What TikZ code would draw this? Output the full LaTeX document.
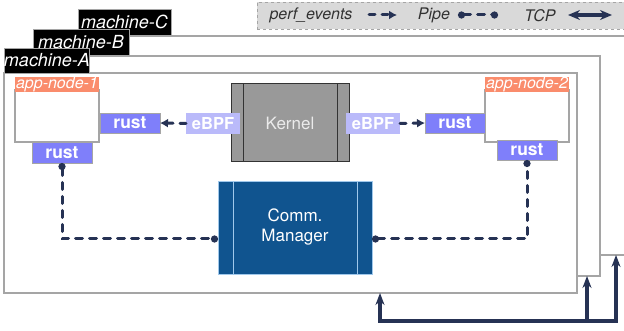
\documentclass[tikz,border=0pt]{standalone}
\usepackage{fontspec}
\setmainfont{TeX Gyre Heros}
\usetikzlibrary{arrows.meta,calc}
\definecolor{navy}{RGB}{38,50,84}
\definecolor{rustc}{RGB}{127,127,250}
\definecolor{ebpfc}{RGB}{186,186,250}
\definecolor{salmon}{RGB}{250,140,108}
\definecolor{commc}{RGB}{16,84,143}
\definecolor{commb}{RGB}{160,200,235}
\definecolor{kerc}{RGB}{153,153,153}
\definecolor{legc}{RGB}{217,217,217}
\definecolor{framec}{RGB}{165,165,165}
\definecolor{legtext}{RGB}{50,50,50}
\newcommand\myfs[1]{\fontsize{#1}{#1}\selectfont}
\begin{document}
\begin{tikzpicture}[x=1pt,y=-1pt,
  box/.style={rectangle,inner sep=0pt,outer sep=0pt,anchor=north west},
  mframe/.style={box,draw=framec,line width=1.3pt,fill=white},
  mlabel/.style={box,fill=black,draw=framec,line width=0.6pt,text=white,font=\myfs{18}\itshape},
  appbox/.style={box,draw=framec,line width=1.6pt,fill=white},
  applabel/.style={box,fill=salmon,text=white,font=\myfs{16}\itshape},
  rustbox/.style={box,fill=rustc,draw=framec,line width=0.8pt,text=white,font=\myfs{17.5}\bfseries},
  ebpfbox/.style={box,fill=ebpfc,text=white,font=\myfs{16.5}\bfseries},
  legtxt/.style={inner sep=0pt,text=legtext,font=\myfs{16}\itshape},
  perf/.style={navy,line width=3pt,line cap=round,dash pattern=on 6pt off 7pt,-{Latex[length=8pt,width=9pt]}},
  pipe/.style={navy,line width=3pt,line cap=round,dash pattern=on 7pt off 7pt,{Circle[length=7pt]}-{Circle[length=7pt]}},
  tcp/.style={navy,line width=3.5pt}
]
\clip (0,0) rectangle (624,331);
\fill[white] (0,0) rectangle (624,331);

% legend
\node[box,fill=legc,draw=framec,dashed,line width=0.8pt,minimum width=400pt,minimum height=27pt] (leg) at (257,2) {};
\node[legtxt] (lperf) at (311,15.5) {perf\_events};
\coordinate (pa) at (369,15);
\coordinate (pb) at (397,15);
\draw[perf] (pa) -- (pb);
\node[legtxt] (lpipe) at (434,15.5) {Pipe};
\coordinate (qa) at (458,15);
\coordinate (qb) at (498,15);
\draw[pipe] (qa) -- (qb);
\node[legtxt] (ltcp) at (540,15.5) {TCP};
\coordinate (ra) at (568,15);
\coordinate (rb) at (612,15);
\draw[tcp,{Stealth[length=12pt,width=10pt]}-{Stealth[length=12pt,width=10pt]}] (ra) -- (rb);

% machine frames
\node[mframe,minimum width=570pt,minimum height=219pt] (mC) at (78,36) {};
\node[mlabel,minimum width=93pt,minimum height=26pt] (lC) at (78,9) {machine-C};
\node[mframe,minimum width=567pt,minimum height=220pt] (mB) at (33,56) {};
\node[mlabel,minimum width=96pt,minimum height=26pt] (lB) at (33,29) {machine-B};
\node[mframe,minimum width=573pt,minimum height=220pt] (mA) at (4,73) {};
\node[mlabel,minimum width=84pt,minimum height=25pt] (lA) at (4,48) {machine-A};

% app nodes
\node[appbox,minimum width=84pt,minimum height=52pt] (app1) at (15,90) {};
\node[applabel,minimum width=84pt,minimum height=15pt] (app1l) at (15,77) {app-node-1};
\node[appbox,minimum width=84pt,minimum height=52pt] (app2) at (485,90) {};
\node[applabel,minimum width=84pt,minimum height=15pt] (app2l) at (485,77) {app-node-2};

\node[rustbox,minimum width=60pt,minimum height=20pt] (r1r) at (100,113) {rust};
\node[rustbox,minimum width=60pt,minimum height=21pt] (r1b) at (32,142) {rust};
\node[rustbox,minimum width=60pt,minimum height=20pt] (r2r) at (425,113) {rust};
\node[rustbox,minimum width=60pt,minimum height=20pt] (r2b) at (497,140) {rust};

% kernel
\node[box,fill=kerc,draw=black!80,line width=1pt,minimum width=118pt,minimum height=78pt,text=black!8,font=\myfs{17}] (ker) at (231,84) {Kernel};
\draw[black!80,line width=1pt] ([xshift=12pt]ker.north west) -- ([xshift=12pt]ker.south west);
\draw[black!80,line width=1pt] ([xshift=-12pt]ker.north east) -- ([xshift=-12pt]ker.south east);
\node[ebpfbox,minimum width=54pt,minimum height=21pt] (e1) at (186,113) {eBPF};
\node[ebpfbox,minimum width=54pt,minimum height=21pt] (e2) at (346,113) {eBPF};

% comm manager
\node[box,fill=commc,draw=commb,line width=0.8pt,minimum width=154pt,minimum height=93pt,text=white,font=\myfs{17},align=center] (comm) at (218,181) {Comm.\\[3pt]Manager};
\draw[commb,line width=0.8pt] ([xshift=15pt]comm.north west) -- ([xshift=15pt]comm.south west);
\draw[commb,line width=0.8pt] ([xshift=-15pt]comm.north east) -- ([xshift=-15pt]comm.south east);

% perf_events
\draw[perf] (e1.west) -- (r1r.east);
\draw[perf] (e2.east) -- (r2r.west);

% pipes
\draw[pipe] (r1b.south) |- ([yshift=-11.5pt]comm.west);
\draw[pipe] ([yshift=-11.5pt]comm.east) -| (r2b.south);

% tcp
\coordinate (tA) at (380,321);
\coordinate (tB) at (587,321);
\coordinate (tC) at (616,321);
\draw[tcp,{Stealth[length=12pt,width=9pt]}-{Stealth[length=12pt,width=9pt]}] (tA |- mA.south) -- (tA) -- (tC) -- (tC |- mC.south);
\draw[tcp,-{Stealth[length=12pt,width=9pt]}] (tB) -- (tB |- mB.south);
\end{tikzpicture}
\end{document}
